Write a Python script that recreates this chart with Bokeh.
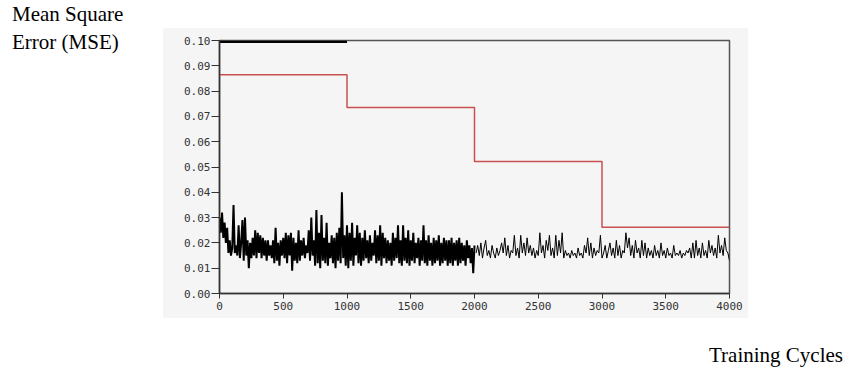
import numpy as np
from bokeh.plotting import figure
from bokeh.models import FixedTicker, NumeralTickFormatter, Range1d, Div
from bokeh.layouts import column
from bokeh.embed import file_html
from bokeh.resources import INLINE

# ---------------- data ----------------
x_ticks = [0, 500, 1000, 1500, 2000, 2500, 3000, 3500, 4000]
y_ticks = [0.00, 0.01, 0.02, 0.03, 0.04, 0.05, 0.06, 0.07, 0.08, 0.09, 0.10]

# step line (red)
step_x = [0, 1000, 2000, 3000, 4000]
step_y = [0.0865, 0.0735, 0.0522, 0.0262, 0.0262]

# saturated segment along the top (black)
top_x = [0, 1000]
top_y = [0.0995, 0.0995]

# MSE, dense phase (every 10 cycles, 0..2000)
mse_dense = [
    0.030, 0.024, 0.032, 0.022, 0.028, 0.020, 0.026, 0.016, 0.021, 0.015,
    0.018, 0.035, 0.016, 0.019, 0.015, 0.027, 0.014, 0.020, 0.029, 0.013,
    0.030, 0.015, 0.021, 0.010, 0.020, 0.014, 0.022, 0.015, 0.025, 0.014,
    0.024, 0.016, 0.023, 0.014, 0.022, 0.015, 0.021, 0.013, 0.021, 0.015,
    0.019, 0.014, 0.021, 0.012, 0.026, 0.013, 0.020, 0.011, 0.021, 0.015,
    0.022, 0.014, 0.024, 0.012, 0.023, 0.015, 0.024, 0.009, 0.022, 0.013,
    0.020, 0.012, 0.025, 0.013, 0.021, 0.015, 0.022, 0.014, 0.019, 0.016,
    0.025, 0.013, 0.030, 0.015, 0.021, 0.011, 0.033, 0.012, 0.024, 0.010,
    0.031, 0.013, 0.022, 0.012, 0.028, 0.011, 0.020, 0.014, 0.023, 0.012,
    0.022, 0.010, 0.024, 0.013, 0.026, 0.012, 0.040, 0.014, 0.023, 0.011,
    0.027, 0.010, 0.024, 0.013, 0.028, 0.011, 0.022, 0.015, 0.027, 0.012,
    0.024, 0.011, 0.022, 0.013, 0.025, 0.014, 0.021, 0.012, 0.023, 0.013,
    0.020, 0.015, 0.025, 0.012, 0.023, 0.013, 0.027, 0.011, 0.024, 0.014,
    0.022, 0.012, 0.021, 0.013, 0.020, 0.011, 0.024, 0.013, 0.022, 0.014,
    0.027, 0.012, 0.021, 0.011, 0.027, 0.013, 0.022, 0.012, 0.025, 0.011,
    0.021, 0.013, 0.024, 0.012, 0.020, 0.014, 0.022, 0.011, 0.021, 0.013,
    0.027, 0.012, 0.021, 0.011, 0.023, 0.013, 0.020, 0.011, 0.022, 0.012,
    0.021, 0.013, 0.023, 0.011, 0.020, 0.012, 0.022, 0.013, 0.021, 0.011,
    0.021, 0.012, 0.022, 0.011, 0.020, 0.013, 0.021, 0.011, 0.022, 0.012,
    0.020, 0.013, 0.019, 0.011, 0.021, 0.014, 0.019, 0.012, 0.018, 0.008,
    0.019,
]
dense_cycles = np.arange(0, 2001, 10)

# MSE, sparse phase (every 12.5 cycles, 2012.5..4000)
mse_sparse = [
    0.016, 0.019, 0.015, 0.020, 0.014, 0.018, 0.021, 0.015,
    0.017, 0.014, 0.019, 0.016, 0.014, 0.018, 0.015, 0.017,
    0.020, 0.016, 0.022, 0.015, 0.019, 0.014, 0.017, 0.016,
    0.023, 0.015, 0.018, 0.014, 0.023, 0.016, 0.020, 0.015,
    0.022, 0.016, 0.019, 0.015, 0.018, 0.014, 0.017, 0.015,
    0.024, 0.016, 0.019, 0.014, 0.021, 0.017, 0.023, 0.015,
    0.018, 0.014, 0.023, 0.015, 0.021, 0.016, 0.024, 0.014,
    0.017, 0.015, 0.016, 0.014, 0.017, 0.015, 0.016, 0.014,
    0.018, 0.015, 0.016, 0.014, 0.019, 0.016, 0.022, 0.015,
    0.020, 0.014, 0.018, 0.015, 0.017, 0.016, 0.023, 0.014,
    0.016, 0.019, 0.014, 0.017, 0.020, 0.015, 0.018, 0.014,
    0.021, 0.015, 0.019, 0.014, 0.017, 0.016, 0.024, 0.018,
    0.022, 0.015, 0.019, 0.014, 0.021, 0.016, 0.018, 0.014,
    0.021, 0.015, 0.020, 0.014, 0.018, 0.015, 0.017, 0.014,
    0.019, 0.015, 0.017, 0.014, 0.020, 0.015, 0.017, 0.014,
    0.018, 0.015, 0.016, 0.014, 0.019, 0.015, 0.016, 0.015,
    0.017, 0.014, 0.016, 0.015, 0.017, 0.016, 0.018, 0.014,
    0.020, 0.014, 0.021, 0.015, 0.018, 0.014, 0.020, 0.015,
    0.017, 0.014, 0.021, 0.016, 0.019, 0.015, 0.018, 0.014,
    0.023, 0.016, 0.019, 0.015, 0.022, 0.017, 0.016, 0.013,
]
sparse_cycles = 2000 + 12.5 * np.arange(1, len(mse_sparse) + 1)

# ---------------- layout (page pixels) ----------------
FL, FT, FW, FH = 219, 40, 510, 253      # plot frame left/top/width/height
W, H = 845, 371
X0, X1, Y0, Y1 = 0, 4000, 0.0, 0.10

p = figure(width=W, height=H, output_backend="svg", toolbar_location=None,
           x_range=Range1d(X0, X1), y_range=Range1d(Y0, Y1),
           min_border_left=FL, min_border_right=W - FL - FW,
           min_border_top=FT, min_border_bottom=H - FT - FH)

p.border_fill_color = None
p.background_fill_color = "#f5f5f5"
p.styles = {"background": "linear-gradient(#f5f5f5,#f5f5f5) 163px 28px / 585px 290px no-repeat"}
p.outline_line_color = "#555555"
p.outline_line_width = 1.5
p.grid.visible = False

for ax in (p.xaxis, p.yaxis):
    ax.axis_line_color = "#333333"
    ax.axis_line_width = 1.5
    ax.major_tick_line_color = "#333333"
    ax.major_tick_line_width = 1
    ax.minor_tick_line_color = None
    ax.major_tick_in = 0
    ax.major_label_text_font = "DejaVu Sans Mono"
    ax.major_label_text_font_size = "11px"
    ax.major_label_text_color = "#333333"

p.xaxis.ticker = FixedTicker(ticks=x_ticks)
p.yaxis.ticker = FixedTicker(ticks=y_ticks)
p.yaxis.formatter = NumeralTickFormatter(format="0.00")
p.xaxis.formatter = NumeralTickFormatter(format="0")
p.yaxis.major_tick_out = 8
p.yaxis.major_label_standoff = 1
p.xaxis.major_tick_out = 5
p.xaxis.major_label_standoff = 3

p.line(dense_cycles, mse_dense, line_color="black", line_width=2)
p.line(sparse_cycles, mse_sparse, line_color="black", line_width=1)
p.line(top_x, top_y, line_color="black", line_width=2.5)
p.step(step_x, step_y, mode="after", line_color="#c8504f", line_width=1.5)

# ---------------- texts outside the plot (HTML) ----------------
TXT = "font-family:'Liberation Serif',serif;font-size:21px;line-height:28px;color:#000;white-space:nowrap;"
TOP_H, BOT_H = 60, 30
top_text = Div(text=f'<div style="{TXT}padding-left:12px;">Mean Square<br>Error (MSE)</div>',
               width=200, height=TOP_H, margin=(0, 0, -TOP_H, 0))
bottom_text = Div(text=f'<div style="{TXT}text-align:right;width:{843}px;">Training Cycles</div>',
                  width=W, height=BOT_H, margin=(-BOT_H, 0, 0, 0))

layout = column(top_text, p, bottom_text, spacing=0)

open("out.html", "w").write(file_html(layout, INLINE))
